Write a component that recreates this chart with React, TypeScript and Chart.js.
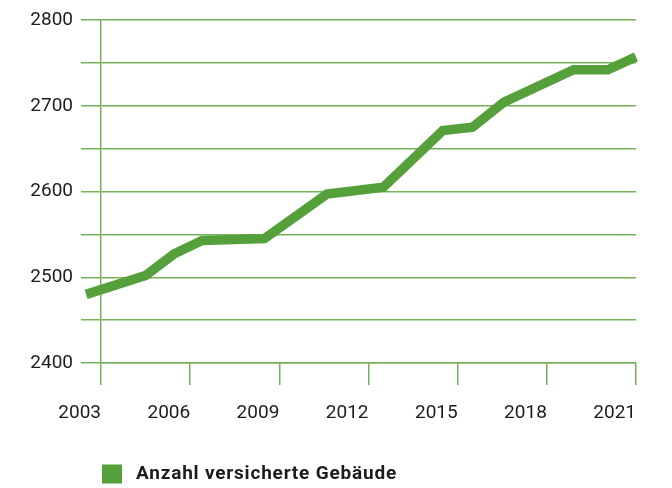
import React, { useEffect, useRef } from "react";
import { Chart, registerables } from "chart.js";

Chart.register(...registerables);

const seriesLabel = "Anzahl versicherte Gebäude";
const years = [2002.5, 2004.5, 2005.45, 2006.4, 2008.5, 2010.6, 2012.5, 2014.5, 2015.5, 2016.55, 2018.9, 2020.05, 2021];
const buildings = [2480, 2502, 2527, 2543, 2545, 2597, 2605, 2671, 2675, 2704, 2742, 2742, 2757];
const xTickYears = [2003, 2006, 2009, 2012, 2015, 2018, 2021];
const yMin = 2400;
const yMax = 2800;

const LINE_GREEN = "#55a03a";
const GRID_GREEN = "#74b25a";
const TEXT = "#1c1c1c";

const legendPlugin = {
  id: "customLegend",
  afterDraw(chart: any) {
    const ctx = chart.ctx;
    const ds = chart.data.datasets[0];
    const left = chart.chartArea.left + 1;
    const cy = chart.height - 14;
    ctx.save();
    ctx.fillStyle = ds.borderColor;
    ctx.fillRect(left, cy - 9.5, 20, 19);
    ctx.font = "bold 19px Roboto";
    try {
      (ctx as any).letterSpacing = "0.8px";
    } catch (e) {}
    ctx.fillStyle = TEXT;
    ctx.textBaseline = "middle";
    ctx.textAlign = "left";
    ctx.fillText(ds.label, left + 34, cy + 0.5);
    ctx.restore();
  },
};

export default function App() {
  const ref = useRef<HTMLCanvasElement | null>(null);

  useEffect(() => {
    if (!ref.current) return;
    const chart = new Chart(ref.current, {
      type: "line",
      data: {
        datasets: [
          {
            label: seriesLabel,
            data: years.map((x, i) => ({ x, y: buildings[i] })),
            borderColor: LINE_GREEN,
            backgroundColor: LINE_GREEN,
            borderWidth: 9.5,
            borderJoinStyle: "miter",
            borderCapStyle: "butt",
            pointRadius: 0,
            tension: 0,
            clip: false as any,
          },
        ],
      },
      options: {
        animation: false,
        responsive: false,
        maintainAspectRatio: false,
        layout: { padding: { top: 20, right: 36, bottom: 0, left: 0 } },
        plugins: { legend: { display: false }, tooltip: { enabled: false } },
        scales: {
          x: {
            type: "linear",
            min: xTickYears[0],
            max: xTickYears[xTickYears.length - 1],
            afterBuildTicks: (scale: any) => {
              scale.ticks = xTickYears.map((v) => ({ value: v }));
            },
            afterFit: (scale: any) => {
              scale.height = 125;
            },
            grid: {
              drawOnChartArea: false,
              drawTicks: true,
              tickLength: 22,
              color: GRID_GREEN,
              lineWidth: 1.5,
            },
            border: { display: true, color: GRID_GREEN, width: 1.5 },
            ticks: {
              autoSkip: false,
              maxRotation: 0,
              align: "end",
              padding: 17,
              color: TEXT,
              font: { family: "Roboto", size: 19 },
              callback: (v: any) => String(v),
            },
          },
          y: {
            min: yMin,
            max: yMax,
            afterFit: (scale: any) => {
              scale.width = 101;
            },
            grid: {
              drawTicks: true,
              tickLength: 20,
              color: GRID_GREEN,
              lineWidth: 1.5,
            },
            border: { display: true, color: GRID_GREEN, width: 1.5 },
            ticks: {
              stepSize: 50,
              padding: 8,
              color: TEXT,
              font: { family: "Roboto", size: 19 },
              callback: (v: any) => (Number(v) % 100 === 0 ? String(v) : ""),
            },
          },
        },
      },
      plugins: [legendPlugin],
    });
    return () => chart.destroy();
  }, []);

  return (
    <div style={{ position: "fixed", left: 0, top: 0, width: 672, height: 488, background: "#fff" }}>
      <canvas ref={ref} width={672} height={488} style={{ display: "block", width: 672, height: 488 }} />
    </div>
  );
}
